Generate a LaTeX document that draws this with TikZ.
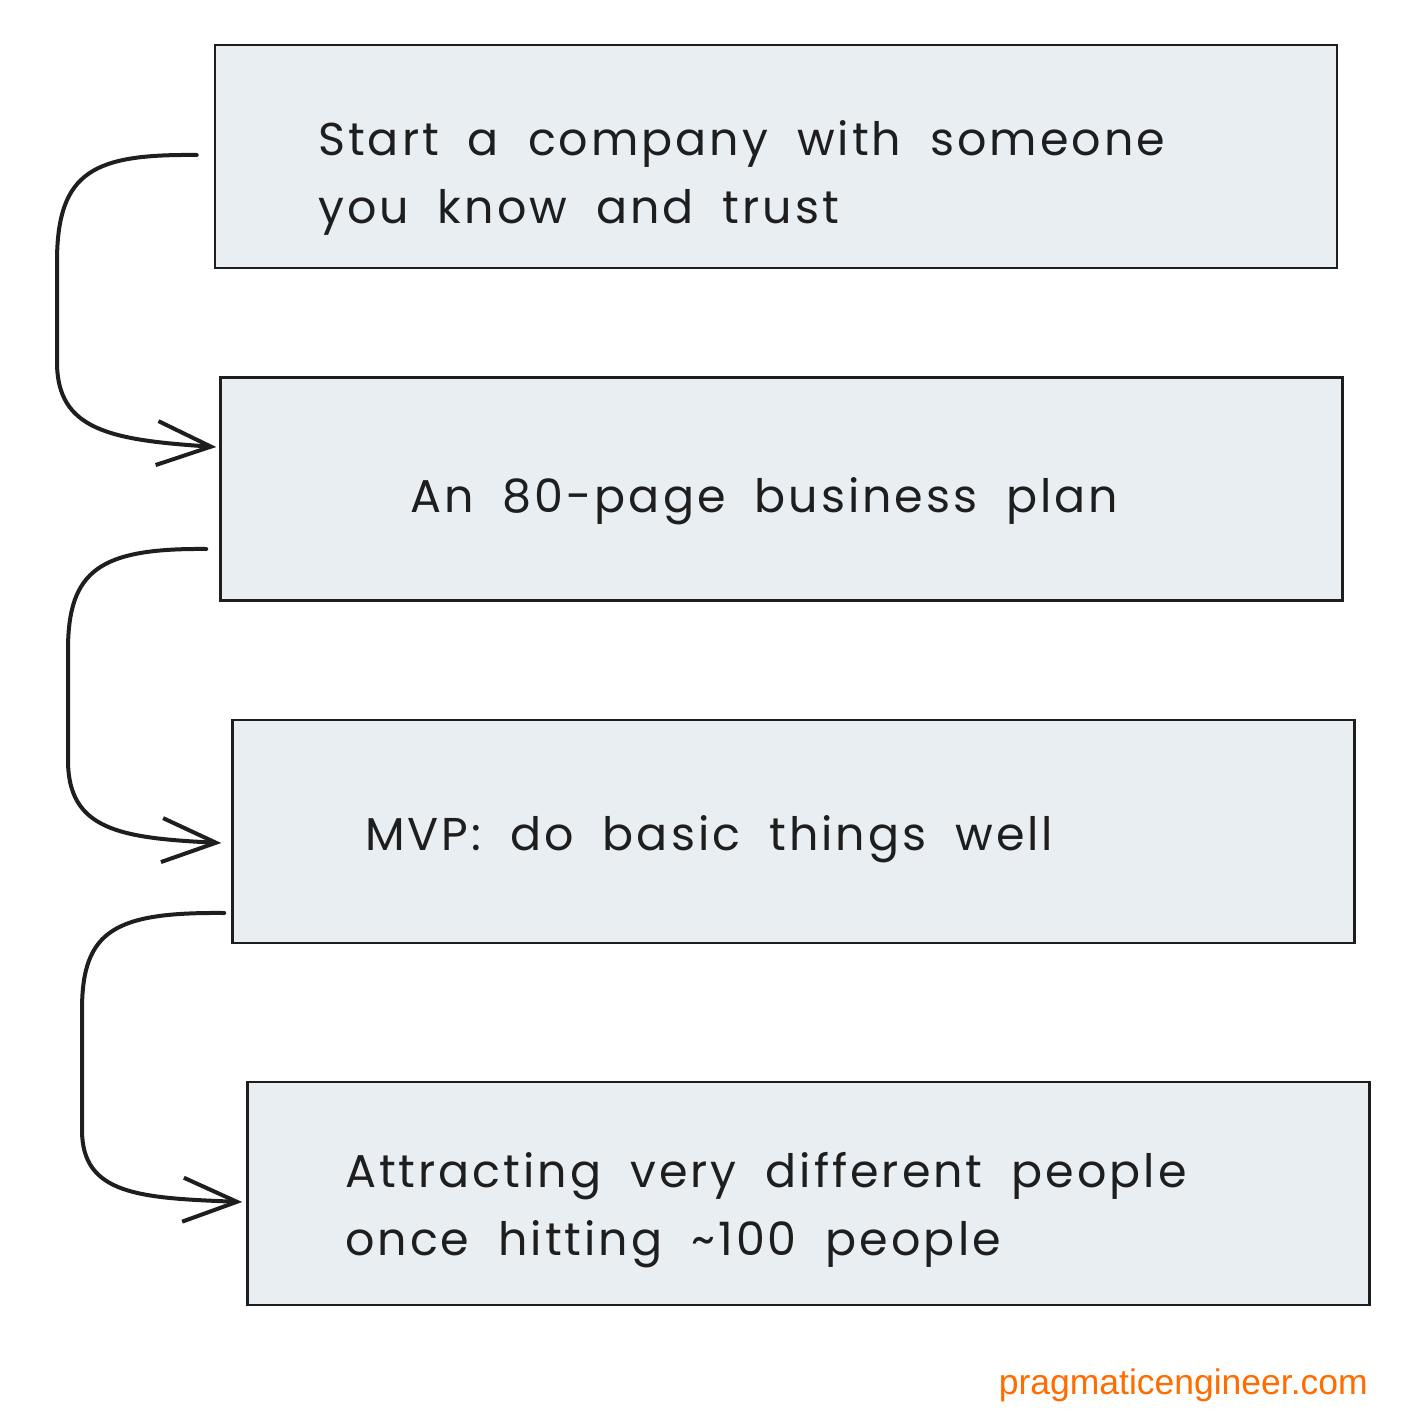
\documentclass[tikz,border=0pt]{standalone}
\usepackage{fontspec}
\setmainfont{Liberation Sans}
\newfontfamily\handfont[LetterSpace=6.5,WordSpace=1.9]{Poppins}
\usetikzlibrary{arrows.meta,calc}
\definecolor{boxfill}{RGB}{233,238,243}
\definecolor{ink}{RGB}{30,30,30}
\definecolor{brand}{RGB}{255,108,0}
\begin{document}
\begin{tikzpicture}[x=1pt,y=-1pt,
  box/.style={draw=ink,line width=2.5pt,fill=boxfill,minimum width=1122pt,minimum height=223pt,inner sep=0pt},
  label/.style={font=\handfont\fontsize{46}{68}\selectfont,text=ink,anchor=base west,align=left,inner sep=0pt},
  flow/.style={draw=ink,line width=4pt,line cap=round,-{Straight Barb[length=54pt,width=44pt,line width=4pt]}}]
\useasboundingbox (0,0) rectangle (1412,1426);
\fill[white] (0,0) rectangle (1412,1426);
% boxes
\node[box] (b1) at (776,156.5) {};
\node[box] (b2) at (781.5,489) {};
\node[box] (b3) at (793.5,831.5) {};
\node[box] (b4) at (808.5,1193.5) {};
% texts (base anchor = last line)
\node[label] (t1) at (318,223) {Start a company with someone\\you know and trust};
\node[label] (t2) at (410,512) {An 80-page business plan};
\node[label] (t3) at (365,850) {MVP: do basic things well};
\node[label] (t4) at (345,1255) {Attracting very different people\\once hitting \textasciitilde100 people};
% connectors
\coordinate (s1) at ($(b1.west)+(-17,-1.5)$);
\coordinate (e1) at ($(b2.west)+(-3,-42)$);
\coordinate (s2) at ($(b2.west)+(-13,60)$);
\coordinate (e2) at ($(b3.west)+(-10,11.5)$);
\coordinate (s3) at ($(b3.west)+(-7,81.5)$);
\coordinate (e3) at ($(b4.west)+(-4,8.5)$);
\draw[flow] (s1) .. controls (95,154) and (57,170) .. (57,262) -- (57,362) .. controls (57,430) and (110,440) .. (e1);
\draw[flow] (s2) .. controls (100,548) and (68,570) .. (68,650) -- (68,760) .. controls (68,830) and (120,838) .. (e2);
\draw[flow] (s3) .. controls (115,912) and (82,930) .. (82,1010) -- (82,1130) .. controls (82,1195) and (140,1198) .. (e3);
% footer
\node[font=\fontsize{35.5}{42}\selectfont,text=brand,anchor=base east,inner sep=0pt] (web) at (1368,1394) {pragmaticengineer.com};
\end{tikzpicture}
\end{document}
